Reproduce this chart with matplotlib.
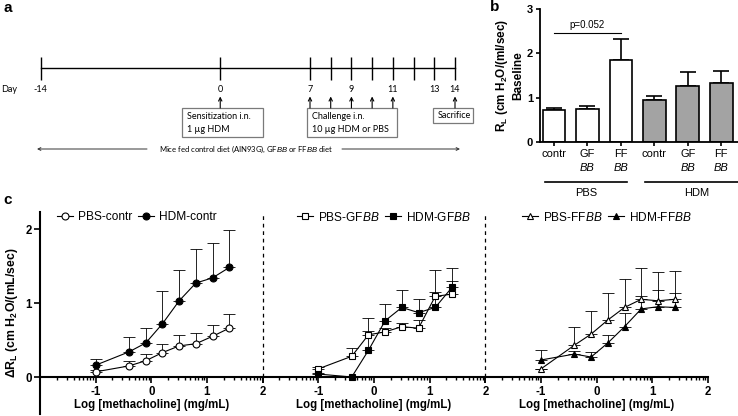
import numpy as np
import matplotlib
matplotlib.use('Agg')
import matplotlib.pyplot as plt
from matplotlib.patches import Rectangle
from matplotlib.ticker import FixedLocator

plt.rcParams['font.family'] = 'Liberation Sans'
plt.rcParams['mathtext.fontset'] = 'custom'
plt.rcParams['mathtext.rm'] = 'Liberation Sans'
plt.rcParams['mathtext.it'] = 'Liberation Sans:italic'
plt.rcParams['mathtext.bf'] = 'Liberation Sans:bold'

W, H = 738, 416

### panel a: protocol timeline
days = [-14, 0, 7, 8, 9, 10, 11, 12, 13, 14]
day_labels = [-14, 0, 7, 9, 11, 13, 14]
arrow_days = [0, 7, 8, 9, 10, 11, 14]

### panel b: baseline resistance
bar_names = ['contr', 'GF', 'FF', 'contr', 'GF', 'FF']
bar_groups = ['PBS', 'HDM']
baseline = [0.71, 0.75, 1.85, 0.95, 1.27, 1.32]
baseline_err = [0.05, 0.07, 0.47, 0.08, 0.32, 0.29]

### panel c: methacholine dose response
log_mch = [-1, -0.4, -0.1, 0.2, 0.5, 0.8, 1.1, 1.4]
pbs_contr = [0.07, 0.15, 0.22, 0.33, 0.42, 0.45, 0.55, 0.66]
pbs_contr_err = [0.03, 0.07, 0.09, 0.11, 0.15, 0.14, 0.15, 0.19]
hdm_contr = [0.16, 0.34, 0.46, 0.72, 1.03, 1.27, 1.34, 1.48]
hdm_contr_err = [0.09, 0.20, 0.20, 0.44, 0.42, 0.46, 0.47, 0.50]
pbs_gf = [0.11, 0.28, 0.57, 0.61, 0.68, 0.66, 1.09, 1.12]
pbs_gf_err = [0.02, 0.11, 0.05, 0.05, 0.05, 0.11, 0.06, 0.18]
hdm_gf = [0.04, 0.0, 0.36, 0.76, 0.94, 0.87, 0.94, 1.21]
hdm_gf_err = [0.01, 0.0, 0.44, 0.22, 0.23, 0.18, 0.51, 0.26]
pbs_ff = [0.11, 0.43, 0.58, 0.77, 0.94, 1.05, 1.03, 1.05]
pbs_ff_err = [0.0, 0.24, 0.31, 0.36, 0.39, 0.42, 0.39, 0.38]
hdm_ff = [0.23, 0.31, 0.27, 0.46, 0.68, 0.92, 0.95, 0.94]
hdm_ff_err = [0.13, 0.04, 0.07, 0.11, 0.18, 0.17, 0.23, 0.20]

fig = plt.figure(figsize=(W/100, H/100), dpi=100)

## panel a drawn in pixel coordinates of the figure
ax_a = fig.add_axes([0, 0, 1, 1])
ax_a.set_xlim(0, W)
ax_a.set_ylim(H, 0)
ax_a.axis('off')
afont = 'Lato'

tl_y = 68.3
day_x = dict(zip(days, np.interp(days, [-14, 7, 14], [40.7, 310, 455])))
ax_a.plot([day_x[-14], day_x[14]], [tl_y, tl_y], color='black', lw=1)
ax_a.vlines(list(day_x.values()), tl_y-11.5, tl_y+11.5, color='black', lw=1)
for d in day_labels:
	ax_a.text(day_x[d], 90, str(d), ha='center', va='center', fontsize=6.5, family=afont)
ax_a.text(1, 90, 'Day', ha='left', va='center', fontsize=6.5, family=afont)
for d in arrow_days:
	ax_a.annotate('', xy=(day_x[d], 96.5), xytext=(day_x[d], 108),
		arrowprops=dict(arrowstyle='->', lw=0.8, color='black', shrinkA=0, shrinkB=0, mutation_scale=6))

# boxes under the arrows
ax_a.add_patch(Rectangle((181.7, 107.7), 81.6, 29, fill=False, ec='#7a7a7a', lw=0.9))
ax_a.text(186.7, 116.7, 'Sensitization i.n.', va='center', fontsize=6.5, family=afont)
ax_a.text(186.7, 130, '1 \u00b5g HDM', va='center', fontsize=6.5, family=afont)
ax_a.add_patch(Rectangle((306.7, 107.7), 90, 29, fill=False, ec='#7a7a7a', lw=0.9))
ax_a.text(311.7, 116.7, 'Challenge i.n.', va='center', fontsize=6.5, family=afont)
ax_a.text(311.7, 130, '10 \u00b5g HDM or PBS', va='center', fontsize=6.5, family=afont)
ax_a.add_patch(Rectangle((433.3, 107.7), 40, 15.6, fill=False, ec='#7a7a7a', lw=0.9))
ax_a.text(438, 116, 'Sacrifice', va='center', fontsize=6.5, family=afont)

ax_a.annotate('', xy=(37, 149), xytext=(147, 149),
	arrowprops=dict(arrowstyle='->', lw=0.7, color='#333333', shrinkA=0, shrinkB=0, mutation_scale=5))
ax_a.annotate('', xy=(460, 149), xytext=(342, 149),
	arrowprops=dict(arrowstyle='->', lw=0.7, color='#333333', shrinkA=0, shrinkB=0, mutation_scale=5))
ax_a.text(245.5, 149, r'Mice fed control diet (AIN93G), GF$\mathit{BB}$ or FF$\mathit{BB}$ diet',
	ha='center', va='center', fontsize=5.5, family=afont)

## panel b
ax_b = fig.add_axes([540/W, 1-141.7/H, (W-540)/W, 132.4/H])
xb = np.arange(len(baseline))
colors = ['white']*3 + ['#a3a3a3']*3
ax_b.errorbar(xb, baseline, yerr=[np.zeros(len(baseline)), baseline_err], fmt='none',
	ecolor='black', elinewidth=1.2, capsize=6, capthick=1.2, zorder=1)
ax_b.bar(xb, baseline, width=0.68, color=colors, edgecolor='black', lw=1.2, zorder=2)
ax_b.set_xlim(-0.42, 5.5)
ax_b.set_ylim(0, 3)
ax_b.spines[['top', 'right']].set_visible(False)
ax_b.spines[['left', 'bottom']].set_linewidth(1.3)
ax_b.set_yticks([0, 1, 2, 3])
ax_b.set_yticklabels(['0', '1', '2', '3'], fontweight='bold', fontsize=8)
ax_b.set_xticks(xb)
ax_b.set_xticklabels(bar_names, fontsize=8)
ax_b.tick_params(axis='both', length=3, width=1.2, pad=2)
tr = ax_b.get_xaxis_transform()
for i in [1, 2, 4, 5]:
	ax_b.text(xb[i], -0.2, 'BB', transform=tr, ha='center', va='center', fontsize=8, style='italic')
for g, name in enumerate(bar_groups):
	x0, x1 = xb[3*g]-0.27, xb[3*g+2]+0.5
	if g == 0:
		x1 = xb[3*g+2]+0.17
	ax_b.plot([x0, x1], [-0.302, -0.302], transform=tr, color='black', lw=1.2, clip_on=False)
	ax_b.text(xb[3*g+1]-0.05 + 0.3*g, -0.385, name, transform=tr, ha='center', va='center', fontsize=8)
ax_b.plot([0, 2], [2.46, 2.46], color='black', lw=0.8)
ax_b.text(1, 2.52, 'p=0.052', ha='center', va='bottom', fontsize=7)
ax_b.set_ylabel('R$_\\mathbf{L}$ (cm H$_\\mathbf{2}$O/(ml/sec)\nBaseline', fontweight='bold', fontsize=8.5)
ax_b.yaxis.set_label_coords(-0.08, 0.5)

## panel c: three segments sharing one axis style
series = [
	(pbs_contr, pbs_contr_err, hdm_contr, hdm_contr_err, 'o', 'contr'),
	(pbs_gf, pbs_gf_err, hdm_gf, hdm_gf_err, 's', 'GF$\\mathit{BB}$'),
	(pbs_ff, pbs_ff_err, hdm_ff, hdm_ff_err, '^', 'FF$\\mathit{BB}$'),
]
leg_x = [0.076, 0.153, 0.163]
c_w = (708-40)/3
minor = [n + np.log10(k) for n in range(-2, 2) for k in range(2, 10)]
for j, (p, pe, h, he, mk, lab) in enumerate(series):
	ax = fig.add_axes([(40 + j*c_w)/W, 2/H, c_w/W, 202/H])
	ax.patch.set_visible(False)
	zero = np.zeros(len(log_mch))
	ax.errorbar(log_mch, p, yerr=[zero, pe], fmt='none', ecolor='black', elinewidth=0.6, capsize=4, capthick=0.6, zorder=2)
	ax.errorbar(log_mch, h, yerr=[zero, he], fmt='none', ecolor='black', elinewidth=0.6, capsize=4, capthick=0.6, zorder=2)
	l1, = ax.plot(log_mch, p, marker=mk, color='black', mfc='white', ms=5, mew=0.8, lw=0.8, zorder=3, label='PBS-' + lab)
	l2, = ax.plot(log_mch, h, marker=mk, color='black', mfc='black', ms=5, mew=0.8, lw=0.8, zorder=3, label='HDM-' + lab)
	ax.set_xlim(-2, 2)
	ax.set_ylim(-0.5, 2.23)
	ax.spines[['top', 'right']].set_visible(False)
	ax.spines['bottom'].set_position(('data', 0))
	ax.spines['bottom'].set_linewidth(1.5)
	ax.spines['left'].set_linewidth(1.5)
	ax.set_xticks([-2, -1, 0, 1, 2])
	ax.set_xticklabels(['', '-1', '0', '1', '2'], fontweight='bold', fontsize=8.3)
	ax.xaxis.set_minor_locator(FixedLocator(minor))
	ax.tick_params(axis='x', which='major', length=4, width=1.2, pad=2.5)
	ax.tick_params(axis='x', which='minor', length=2.5, width=1)
	ax.set_xlabel('Log [methacholine] (mg/mL)', fontweight='bold', fontsize=8.3, labelpad=0.5)
	if j == 0:
		ax.set_yticks([0, 1, 2])
		ax.set_yticklabels(['0', '1', '2'], fontweight='bold', fontsize=8.3)
		ax.tick_params(axis='y', length=4, width=1.2, pad=2)
		ax.set_ylabel('\u0394R$_\\mathbf{L}$ (cm H$_\\mathbf{2}$O/(mL/sec)', fontweight='bold', fontsize=8.8)
		ax.yaxis.set_label_coords(-0.092, 0.5)
	else:
		ax.spines['left'].set_visible(False)
		ax.set_yticks([])
	if j < 2:
		ax.plot([2, 2], [0, 2.23], color='black', lw=0.9, ls=(0, (3, 3)), clip_on=False)
	ax.legend(handles=[l1, l2], ncol=2, loc='center left', bbox_to_anchor=(leg_x[j], 0.975),
		frameon=False, fontsize=8.6, borderpad=0, borderaxespad=0, handlelength=1.35,
		handletextpad=0.4, columnspacing=0.5)

fig.text(3/W, 1-1/H, 'a', fontsize=11, fontweight='bold', va='top')
fig.text(490/W, 1-0/H, 'b', fontsize=11, fontweight='bold', va='top')
fig.text(3/W, 1-193/H, 'c', fontsize=11, fontweight='bold', va='top')

fig.savefig('out.png', dpi=100)
